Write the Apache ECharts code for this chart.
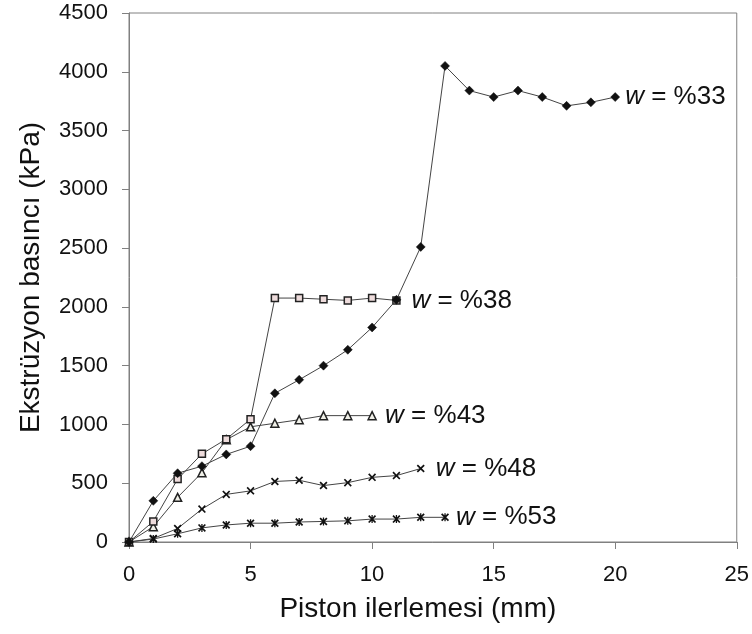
<!DOCTYPE html>
<html><head><meta charset="utf-8">
<script src="https://cdn.jsdelivr.net/npm/echarts@6/dist/echarts.min.js"></script>
<style>html,body{margin:0;padding:0;background:#fff}#c{width:752px;height:634px}</style>
</head><body><div id="c"></div>
<script>
const positions = [0,1,2,3,4,5,6,7,8,9,10,11,12,13,14,15,16,17,18,19,20];
const w33 = [0, 350, 585, 645, 745, 815, 1265, 1380, 1500, 1635, 1825, 2060, 2510, 4050, 3840, 3785, 3840, 3785, 3710, 3740, 3785];
const w38 = [0, 175, 535, 750, 875, 1045, 2075, 2075, 2065, 2055, 2075, 2055];
const w43 = [0, 130, 380, 590, 870, 980, 1010, 1040, 1075, 1075, 1075];
const w48 = [0, 30, 115, 280, 405, 435, 515, 525, 480, 505, 550, 565, 625];
const w53 = [0, 25, 70, 120, 145, 160, 160, 170, 175, 180, 195, 195, 210, 210];
const seriesNames = ['%33', '%38', '%43', '%48', '%53'];
const xTicks = [0, 5, 10, 15, 20, 25];
const yTicks = [0, 500, 1000, 1500, 2000, 2500, 3000, 3500, 4000, 4500];
const xTitle = 'Piston ilerlemesi (mm)';
const yTitle = 'Ekstrüzyon basıncı (kPa)';

const FONT = '"Liberation Sans", Arial, sans-serif';
const pts = vals => vals.map((v, i) => [positions[i], v]);
const xMark = 'path://M0,1.5L1.5,0L5,3.5L8.5,0L10,1.5L6.5,5L10,8.5L8.5,10L5,6.5L1.5,10L0,8.5L3.5,5Z';
const starMark = 'path://M0,1.5L1.5,0L5,3.5L8.5,0L10,1.5L6.5,5L10,8.5L8.5,10L5,6.5L1.5,10L0,8.5L3.5,5Z M4.2,0L5.8,0L5.8,10L4.2,10Z';
const markers = [
  {symbol: 'diamond', size: 9, fill: '#111', border: '#111', bw: 0.5},
  {symbol: 'rect', size: 7, fill: '#eedcdc', border: '#222', bw: 1.5},
  {symbol: 'triangle', size: 8, fill: '#f0f0e8', border: '#222', bw: 1.5},
  {symbol: xMark, size: 8, fill: '#111', border: '#111', bw: 0},
  {symbol: starMark, size: 8, fill: '#111', border: '#111', bw: 0}
];
const dataSets = [w33, w38, w43, w48, w53];
const labelDist = [10, 15, 13, 15, 11];

const chart = echarts.init(document.getElementById('c'));
chart.setOption({
  animation: false,
  backgroundColor: '#fff',
  grid: {left: 129, right: 13, top: 13, bottom: 92, show: true, borderColor: '#808080', borderWidth: 1},
  xAxis: {
    type: 'value', min: 0, max: 25, interval: 5,
    name: xTitle, nameLocation: 'middle', nameGap: 53,
    nameTextStyle: {fontFamily: FONT, fontSize: 28, color: '#111', padding: [0, 30, 0, 0]},
    axisLine: {show: true, lineStyle: {color: '#808080', width: 1}},
    axisTick: {show: true, inside: false, length: 7, lineStyle: {color: '#808080'}},
    axisLabel: {fontFamily: FONT, fontSize: 22, color: '#111', margin: 22,
      formatter: v => xTicks.includes(v) ? String(v) : ''},
    splitLine: {show: false}
  },
  yAxis: {
    type: 'value', min: 0, max: 4500, interval: 500,
    name: yTitle, nameLocation: 'middle', nameGap: 84,
    nameTextStyle: {fontFamily: FONT, fontSize: 28, color: '#111'},
    axisLine: {show: true, lineStyle: {color: '#808080', width: 1}},
    axisTick: {show: true, inside: false, length: 7, lineStyle: {color: '#808080'}},
    axisLabel: {fontFamily: FONT, fontSize: 22, color: '#111', margin: 21,
      formatter: v => yTicks.includes(v) ? String(v) : ''},
    splitLine: {show: false}
  },
  series: dataSets.map((vals, k) => ({
    type: 'line',
    name: seriesNames[k],
    data: pts(vals),
    symbol: markers[k].symbol,
    symbolSize: markers[k].size,
    showAllSymbol: true,
    lineStyle: {color: '#444', width: 1},
    itemStyle: {color: markers[k].fill, borderColor: markers[k].border, borderWidth: markers[k].bw},
    z: 10 - k,
    endLabel: {
      show: true,
      distance: labelDist[k],
      formatter: '{i|w} = ' + seriesNames[k],
      fontFamily: FONT, fontSize: 26, color: '#111',
      rich: {i: {fontFamily: FONT, fontSize: 26, fontStyle: 'italic', color: '#111'}}
    },
    emphasis: {disabled: true}
  }))
});
</script></body></html>
